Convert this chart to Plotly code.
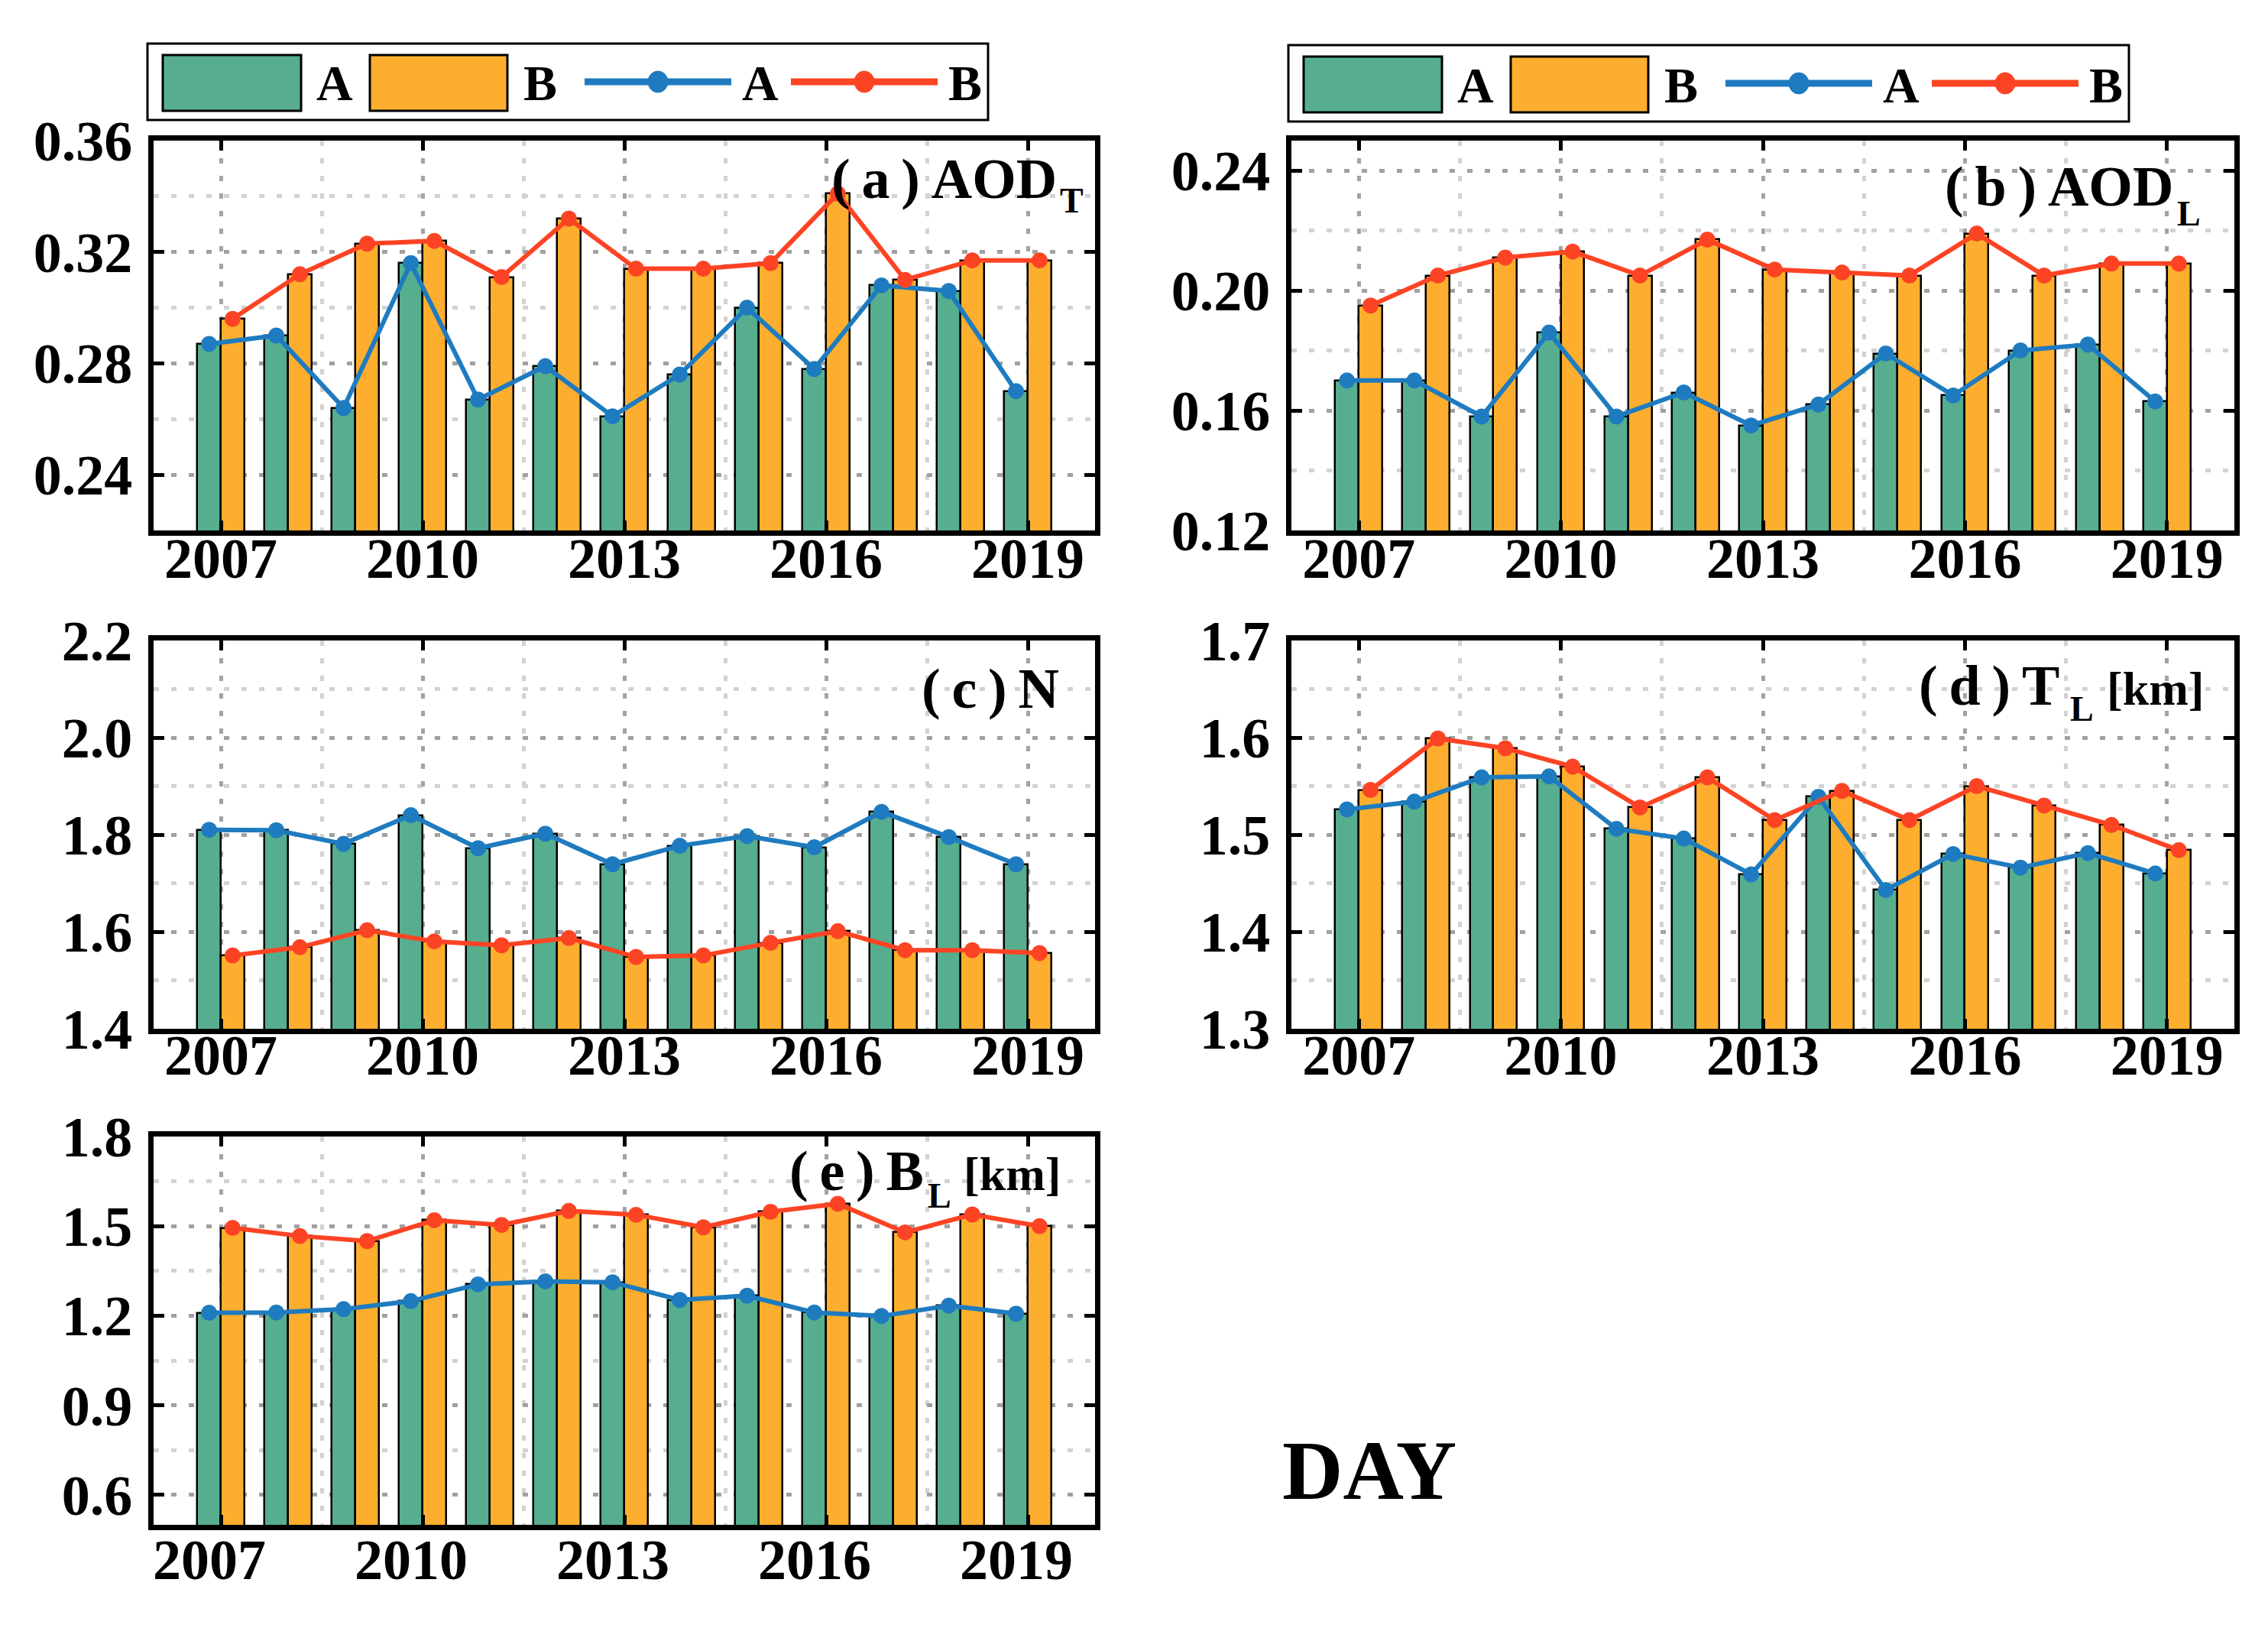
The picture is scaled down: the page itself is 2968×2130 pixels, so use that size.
import plotly.graph_objects as go
from plotly.subplots import make_subplots

W, H = 2968, 2130
years = list(range(2007, 2020))

aodt_A = [0.287, 0.290, 0.264, 0.316, 0.267, 0.279, 0.261, 0.276, 0.300, 0.278, 0.308, 0.306, 0.270]
aodt_B = [0.296, 0.312, 0.323, 0.324, 0.311, 0.332, 0.314, 0.314, 0.316, 0.341, 0.310, 0.317, 0.317]
aodl_A = [0.170, 0.170, 0.158, 0.186, 0.158, 0.166, 0.155, 0.162, 0.179, 0.165, 0.180, 0.182, 0.163]
aodl_B = [0.195, 0.205, 0.211, 0.213, 0.205, 0.217, 0.207, 0.206, 0.205, 0.219, 0.205, 0.209, 0.209]
n_A = [1.810, 1.809, 1.781, 1.840, 1.772, 1.802, 1.739, 1.777, 1.797, 1.774, 1.847, 1.795, 1.739]
n_B = [1.551, 1.568, 1.603, 1.580, 1.572, 1.587, 1.548, 1.551, 1.577, 1.601, 1.562, 1.562, 1.556]
tl_A = [1.526, 1.534, 1.559, 1.560, 1.506, 1.496, 1.459, 1.539, 1.443, 1.480, 1.466, 1.481, 1.460]
tl_B = [1.546, 1.599, 1.589, 1.570, 1.528, 1.559, 1.515, 1.545, 1.515, 1.550, 1.530, 1.510, 1.484]
bl_A = [1.210, 1.211, 1.222, 1.249, 1.305, 1.315, 1.312, 1.253, 1.267, 1.211, 1.199, 1.234, 1.207]
bl_B = [1.494, 1.467, 1.450, 1.520, 1.504, 1.551, 1.538, 1.496, 1.548, 1.575, 1.479, 1.539, 1.500]

x_ticks = [2007, 2010, 2013, 2016, 2019]
series_names = ["A", "B"]

GREEN = "#56AE8F"
ORANGE = "#FDAE2E"
BLUE = "#1F7BBF"
RED = "#FC4424"
FONT = "Liberation Serif, Times New Roman, serif"
TS = "\u2009"

def plab(letter, tail):
    return "(" + TS + letter + TS + ")" + TS + tail

panels = [
    dict(row=1, col=1, A=aodt_A, B=aodt_B, rng=[0.22, 0.36], t0=0.24, dt=0.04, fmt=".2f",
         px=(193, 1425, 176, 686), xlab=(-34, 0),
         label=[(plab("a", "AOD"), "right", 1377, 252, 74), ("T", "left", 1377, 271, 46)]),
    dict(row=1, col=2, A=aodl_A, B=aodl_B, rng=[0.12, 0.25], t0=0.12, dt=0.04, fmt=".2f",
         px=(1682, 2916, 176, 686), xlab=(-34, 0),
         label=[(plab("b", "AOD"), "right", 2838, 262, 74), ("L", "left", 2839, 288, 46)]),
    dict(row=2, col=1, A=n_A, B=n_B, rng=[1.4, 2.2], t0=1.4, dt=0.2, fmt=".1f",
         px=(193, 1425, 830, 1338), xlab=(-36, 0),
         label=[(plab("c", "N"), "right", 1380, 919, 74)]),
    dict(row=2, col=2, A=tl_A, B=tl_B, rng=[1.3, 1.7], t0=1.3, dt=0.1, fmt=".1f",
         px=(1682, 2916, 830, 1338), xlab=(-36, 0),
         label=[(plab("d", "T"), "right", 2689, 915, 74), ("L", "left", 2699, 936, 46),
                ("[km]", "left", 2747, 915, 62)]),
    dict(row=3, col=1, A=bl_A, B=bl_B, rng=[0.5, 1.8], t0=0.6, dt=0.3, fmt=".1f",
         px=(193, 1425, 1479, 1987), xlab=(-25, -15),
         label=[(plab("e", "B"), "right", 1203, 1550, 74), ("L", "left", 1204, 1573, 46),
                ("[km]", "left", 1251, 1550, 62)]),
]

fig = make_subplots(rows=3, cols=2, specs=[[{}, {}], [{}, {}], [{}, None]])

BW = 0.35
xa = [y - BW / 2 for y in years]
xb = [y + BW / 2 for y in years]

GRID_DASH = "7px,16px"

for p in panels:
    r, c = p["row"], p["col"]
    fig.add_trace(go.Bar(x=years, y=p["A"], width=BW, offset=-BW, name=series_names[0],
                         marker=dict(color=GREEN, line=dict(color="black", width=2.5)),
                         showlegend=False), row=r, col=c)
    fig.add_trace(go.Bar(x=years, y=p["B"], width=BW, offset=0, name=series_names[1],
                         marker=dict(color=ORANGE, line=dict(color="black", width=2.5)),
                         showlegend=False), row=r, col=c)
    fig.add_trace(go.Scatter(x=xa, y=p["A"], mode="lines+markers", name=series_names[0],
                             line=dict(color=BLUE, width=6), marker=dict(size=21, color=BLUE),
                             showlegend=False), row=r, col=c)
    fig.add_trace(go.Scatter(x=xb, y=p["B"], mode="lines+markers", name=series_names[1],
                             line=dict(color=RED, width=6), marker=dict(size=21, color=RED),
                             showlegend=False), row=r, col=c)
    x0, x1, y0, y1 = p["px"]
    fig.update_xaxes(row=r, col=c, domain=[x0 / W, x1 / W], range=[2006, 2020],
                     tickvals=x_ticks, ticks="inside", ticklen=13, tickwidth=5, tickcolor="black",
                     showline=True, linecolor="black", linewidth=7, mirror="ticks",
                     showgrid=True, gridcolor="#a3a3a3", gridwidth=5, griddash=GRID_DASH,
                     minor=dict(tick0=2007, dtick=1.5, showgrid=True, gridcolor="#d2d2d2",
                                gridwidth=5, griddash=GRID_DASH, ticks=""),
                     tickfont=dict(family=FONT, size=74, color="black", weight="bold"),
                     ticklabelstandoff=p["xlab"][0], ticklabelshift=p["xlab"][1],
                     zeroline=False, automargin=False)
    fig.update_yaxes(row=r, col=c, domain=[1 - y1 / H, 1 - y0 / H], range=p["rng"],
                     tick0=p["t0"], dtick=p["dt"], tickformat=p["fmt"],
                     ticks="inside", ticklen=14, tickwidth=5, tickcolor="black",
                     showline=True, linecolor="black", linewidth=7, mirror="ticks",
                     showgrid=True, gridcolor="#a0a0a0", gridwidth=5, griddash=GRID_DASH,
                     minor=dict(tick0=p["t0"], dtick=p["dt"] / 2, showgrid=True, gridcolor="#d2d2d2",
                                gridwidth=5, griddash=GRID_DASH, ticks=""),
                     tickfont=dict(family=FONT, size=74, color="black", weight="bold"),
                     ticklabelstandoff=6, zeroline=False, automargin=False)
    # panel label pieces: (text, anchor, x px, baseline px, font size)
    for (txt, anc, lx, base, fs) in p["label"]:
        bottom = base + 0.216 * fs + 1
        fig.add_annotation(x=lx / W, y=1 - bottom / H, xref="paper", yref="paper",
                           xanchor=anc, yanchor="bottom", showarrow=False, text=txt,
                           font=dict(family=FONT, size=fs, color="black", weight="bold"))

# custom legends (two boxes)
def add_legend(left, top):
    bw, bh = 1100, 100
    def X(px):
        return px / W
    def Y(py):
        return 1 - py / H
    cy = top + bh / 2
    fig.add_shape(type="rect", xref="paper", yref="paper", x0=X(left), x1=X(left + bw),
                  y0=Y(top), y1=Y(top + bh), line=dict(color="black", width=3),
                  fillcolor="white", layer="below")
    for (a0, a1, col) in [(20, 201, GREEN), (291, 471, ORANGE)]:
        fig.add_shape(type="rect", xref="paper", yref="paper", x0=X(left + a0), x1=X(left + a1),
                      y0=Y(top + 15), y1=Y(top + 88), line=dict(color="black", width=3),
                      fillcolor=col, layer="above")
    for (a0, a1, col) in [(572, 764, BLUE), (842, 1034, RED)]:
        fig.add_shape(type="line", xref="paper", yref="paper", x0=X(left + a0), x1=X(left + a1),
                      y0=Y(cy), y1=Y(cy), line=dict(color=col, width=9), layer="above")
        m = (a0 + a1) / 2
        fig.add_shape(type="circle", xref="paper", yref="paper", x0=X(left + m - 13),
                      x1=X(left + m + 13), y0=Y(cy - 14), y1=Y(cy + 14),
                      line=dict(color=col, width=1), fillcolor=col, layer="above")
    for (cx, t) in [(245, "A"), (514, "B"), (802, "A"), (1070, "B")]:
        fig.add_annotation(x=X(left + cx), y=Y(cy + 2), xref="paper", yref="paper",
                           xanchor="center", yanchor="middle", showarrow=False, text=t,
                           font=dict(family=FONT, size=66, color="black", weight="bold"))

add_legend(185, 49)
add_legend(1678, 51)

fig.add_annotation(x=1668 / W, y=1 - 1916 / H, xref="paper", yref="paper", xanchor="left",
                   yanchor="middle", showarrow=False, text="DAY",
                   font=dict(family=FONT, size=110, color="black", weight="bold"))

fig.update_layout(width=W, height=H, margin=dict(l=0, r=0, t=0, b=0),
                  paper_bgcolor="white", plot_bgcolor="white", showlegend=False,
                  barmode="overlay", bargap=0)

fig.write_html("out.html")
